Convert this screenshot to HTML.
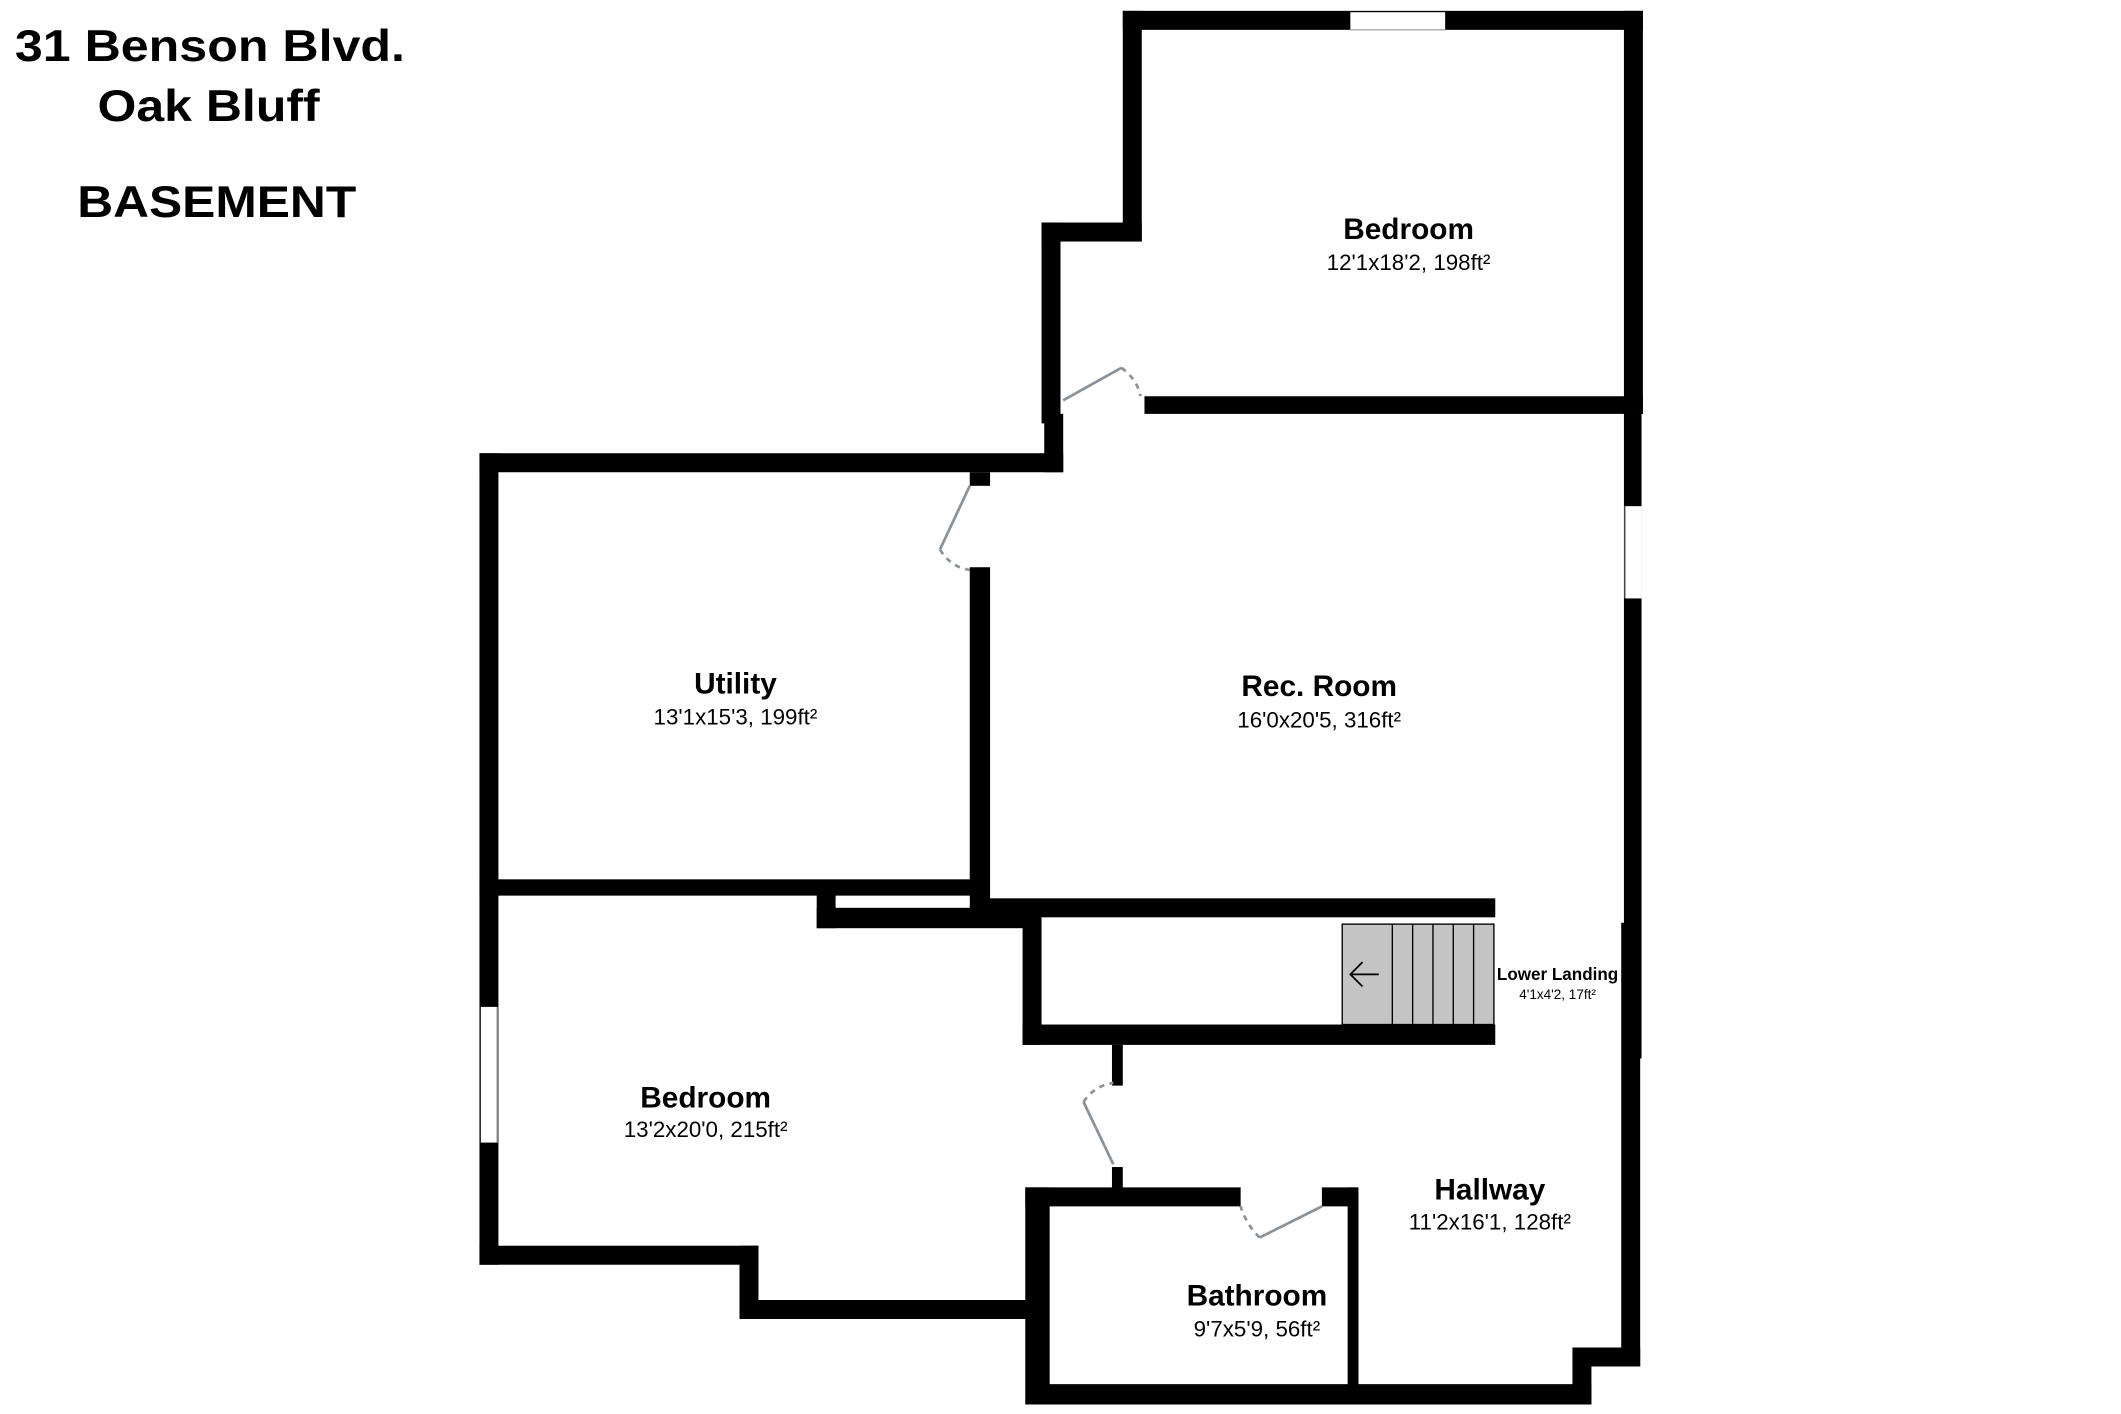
<!DOCTYPE html>
<html><head><meta charset="utf-8"><style>
html,body{margin:0;padding:0;background:#fff;}
svg{display:block;}
text{font-family:"Liberation Sans",Arial,sans-serif;fill:#000;}
</style></head><body>
<svg width="2121" height="1414" viewBox="0 0 1566 1042" preserveAspectRatio="none" xmlns="http://www.w3.org/2000/svg">
<rect width="1566" height="1042" fill="#fff"/>
<g font-weight="bold">
<text x="11" y="45" font-size="33" textLength="288" lengthAdjust="spacingAndGlyphs">31 Benson Blvd.</text>
<text x="72" y="89" font-size="33" textLength="164" lengthAdjust="spacingAndGlyphs">Oak Bluff</text>
<text x="57" y="160" font-size="33" textLength="206" lengthAdjust="spacingAndGlyphs">BASEMENT</text>
</g>
<g fill="#000">
<rect x="829" y="8" width="384" height="14"/>
<rect x="829" y="8" width="14" height="170"/>
<rect x="769" y="164" width="74" height="14"/>
<rect x="769" y="164" width="14" height="148"/>
<rect x="1199" y="8" width="14" height="297"/>
<rect x="845" y="292" width="368" height="13"/>
<rect x="1199" y="305" width="13" height="475"/>
<rect x="771" y="305" width="14" height="43"/>
<rect x="354" y="334" width="431" height="14"/>
<rect x="354" y="334" width="14" height="598"/>
<rect x="716" y="348" width="15" height="10"/>
<rect x="716" y="418" width="15" height="258"/>
<rect x="354" y="648" width="376" height="12"/>
<rect x="603" y="655" width="14" height="29"/>
<rect x="603" y="669" width="165" height="15"/>
<rect x="716" y="662" width="388" height="14"/>
<rect x="755" y="676" width="14" height="94"/>
<rect x="755" y="755" width="349" height="15"/>
<rect x="354" y="918" width="206" height="14"/>
<rect x="546" y="918" width="14" height="54"/>
<rect x="546" y="958" width="224" height="14"/>
<rect x="821" y="770" width="8" height="30"/>
<rect x="821" y="860" width="8" height="20"/>
<rect x="757" y="875" width="18" height="160"/>
<rect x="757" y="875" width="159" height="14"/>
<rect x="976" y="875" width="25" height="14"/>
<rect x="995" y="875" width="8" height="147"/>
<rect x="760" y="1020" width="415" height="15"/>
<rect x="1197" y="680" width="14" height="327"/>
<rect x="1161" y="993" width="50" height="14"/>
<rect x="1161" y="993" width="14" height="42"/>
</g>
<rect x="997" y="9" width="70" height="13" fill="#fff"/>
<line x1="997" y1="22" x2="1067" y2="22" stroke="#aaa" stroke-width="1"/>
<rect x="1200" y="373" width="12" height="68" fill="#fff"/>
<line x1="1200" y1="373" x2="1200" y2="441" stroke="#aaa" stroke-width="1"/>
<rect x="355" y="742" width="12" height="100" fill="#fff"/>
<line x1="367" y1="742" x2="367" y2="842" stroke="#aaa" stroke-width="1"/>
<rect x="617" y="662" width="99" height="6" fill="#fff"/>
<rect x="991" y="681" width="112" height="74" fill="#c4c4c4" stroke="#000" stroke-width="1"/>
<g stroke="#000" stroke-width="1">
<line x1="1028" y1="681" x2="1028" y2="755"/>
<line x1="1043" y1="681" x2="1043" y2="755"/>
<line x1="1058" y1="681" x2="1058" y2="755"/>
<line x1="1073" y1="681" x2="1073" y2="755"/>
<line x1="1088" y1="681" x2="1088" y2="755"/>
</g>
<path d="M1018 718 H997 M1006 709 L997 718 L1006 727" fill="none" stroke="#000" stroke-width="1.3"/>
<g stroke="#8a9299" stroke-width="2" fill="none">
<line x1="785" y1="295" x2="828" y2="271"/>
<path d="M828 271 Q840 280 842 292" stroke-dasharray="4 4"/>
<line x1="716" y1="358" x2="694" y2="405"/>
<path d="M694 405 Q702 418 716 420" stroke-dasharray="4 4"/>
<line x1="822" y1="858" x2="800" y2="812"/>
<path d="M800 812 Q808 800 822 798" stroke-dasharray="4 4"/>
<line x1="976" y1="889" x2="930" y2="912"/>
<path d="M930 912 Q920 902 916 889" stroke-dasharray="4 4"/>
</g>
<g text-anchor="middle">
<text x="1040" y="176" font-size="22" font-weight="bold">Bedroom</text>
<text x="1040" y="199" font-size="16.5">12'1x18'2, 198ft²</text>
<text x="543" y="511" font-size="22" font-weight="bold">Utility</text>
<text x="543" y="534" font-size="16.5">13'1x15'3, 199ft²</text>
<text x="974" y="513" font-size="22" font-weight="bold">Rec. Room</text>
<text x="974" y="536" font-size="16.5">16'0x20'5, 316ft²</text>
<text x="521" y="816" font-size="22" font-weight="bold">Bedroom</text>
<text x="521" y="838" font-size="16.5">13'2x20'0, 215ft²</text>
<text x="1100" y="884" font-size="22" font-weight="bold">Hallway</text>
<text x="1100" y="906" font-size="16.5">11'2x16'1, 128ft²</text>
<text x="928" y="962" font-size="22" font-weight="bold">Bathroom</text>
<text x="928" y="985" font-size="16.5">9'7x5'9, 56ft²</text>
<text x="1150" y="722" font-size="12.6" font-weight="bold">Lower Landing</text>
<text x="1150" y="736" font-size="10">4'1x4'2, 17ft²</text>
</g>
</svg>
</body></html>
